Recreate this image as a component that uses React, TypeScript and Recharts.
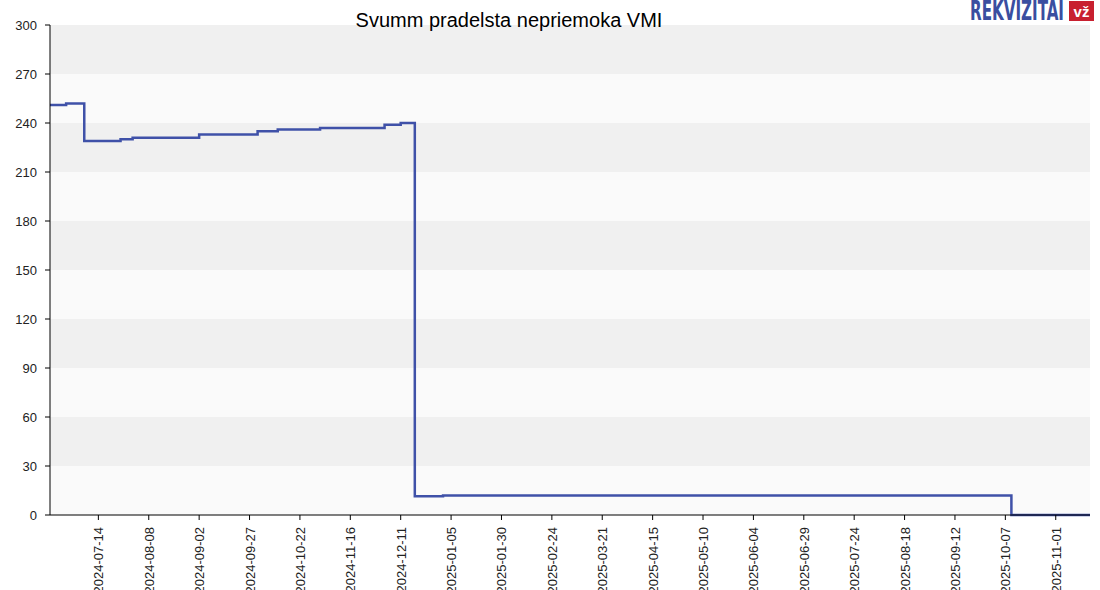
import React from 'react';
import { LineChart, Line, XAxis, YAxis, CartesianGrid } from 'recharts';

// step changes (date the value starts, value)
const stepDates = [
  '2024-06-20', '2024-06-28', '2024-07-07', '2024-07-25', '2024-07-31',
  '2024-09-02', '2024-10-01', '2024-10-11', '2024-11-01', '2024-12-03',
  '2024-12-11', '2024-12-18', '2025-01-01', '2025-10-10', '2025-11-18',
];
const stepValues = [
  251, 252, 229, 230, 231,
  233, 235, 236, 237, 239,
  240, 11.5, 12, 0, 0,
];
const tickDates = [
  '2024-07-14', '2024-08-08', '2024-09-02', '2024-09-27', '2024-10-22',
  '2024-11-16', '2024-12-11', '2025-01-05', '2025-01-30', '2025-02-24',
  '2025-03-21', '2025-04-15', '2025-05-10', '2025-06-04', '2025-06-29',
  '2025-07-24', '2025-08-18', '2025-09-12', '2025-10-07', '2025-11-01',
];
const yTicks = [0, 30, 60, 90, 120, 150, 180, 210, 240, 270, 300];

const DAY = 86400000;
const base = Date.parse('2024-07-14');
const toDay = (s: string) => Math.round((Date.parse(s) - base) / DAY);
const toLabel = (d: number) => new Date(base + d * DAY).toISOString().slice(0, 10);

const data = stepDates.map((d, i) => ({ day: toDay(d), value: stepValues[i] }));
const xTicks = tickDates.map(toDay);

const font = 'Arial, "Liberation Sans", sans-serif';

const DateTick = (props: any) => {
  const { x, y, payload } = props;
  return (
    <text
      x={x}
      y={y}
      dy={5}
      transform={`rotate(-90, ${x}, ${y})`}
      textAnchor="end"
      fontSize={13}
      fontFamily={font}
      fill="#222"
    >
      {toLabel(payload.value)}
    </text>
  );
};

export default function App() {
  return (
    <div style={{ position: 'absolute', left: 0, top: 0, width: 1100, height: 590, background: '#fff' }}>
      <LineChart
        width={1100}
        height={590}
        data={data}
        margin={{ top: 25, right: 10, left: 0, bottom: 0 }}
      >
        <CartesianGrid
          vertical={false}
          stroke="none"
          horizontalFill={['#f0f0f0', '#fafafa']}
          fillOpacity={1}
        />
        <XAxis
          dataKey="day"
          type="number"
          domain={[toDay(stepDates[0]), toDay(stepDates[stepDates.length - 1])]}
          ticks={xTicks}
          interval={0}
          height={75}
          tickSize={5}
          tickMargin={7}
          tick={<DateTick />}
          axisLine={{ stroke: '#000' }}
          tickLine={{ stroke: '#000' }}
          allowDataOverflow
        />
        <YAxis
          domain={[0, 300]}
          ticks={yTicks}
          interval={0}
          width={50}
          tickSize={5}
          tickMargin={8}
          tick={{ fontSize: 13, fontFamily: font, fill: '#222' }}
          axisLine={{ stroke: '#000' }}
          tickLine={{ stroke: '#000' }}
        />
        <Line
          type="stepAfter"
          dataKey="value"
          stroke="#3f51a8"
          strokeWidth={2.5}
          dot={false}
          isAnimationActive={false}
        />
      </LineChart>
      <div
        style={{
          position: 'absolute', left: 0, width: 1018, top: 8, textAlign: 'center',
          fontFamily: font, fontSize: 20, color: '#000', lineHeight: '24px',
        }}
      >
        Svumm pradelsta nepriemoka VMI
      </div>
      <svg style={{ position: 'absolute', left: 0, top: 0 }} width={1100} height={24}>
        <text
          x={970}
          y={20}
          textLength={94}
          lengthAdjust="spacingAndGlyphs"
          fontFamily={'"DejaVu Sans Condensed", "Liberation Sans Narrow", sans-serif'}
          fontWeight="bold"
          fontSize={26}
          fill="#3a4ea0"
        >
          REKVIZITAI
        </text>
        <rect x={1069} y={1} width={25} height={20} fill="#c8202f" />
        <text
          x={1081.5}
          y={17}
          textAnchor="middle"
          fontFamily={font}
          fontWeight="bold"
          fontSize={15}
          fill="#fff"
        >
          vž
        </text>
      </svg>
    </div>
  );
}
